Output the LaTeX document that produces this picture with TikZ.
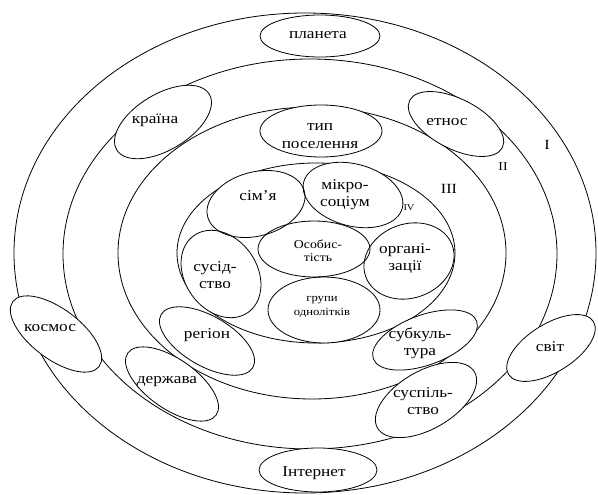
\documentclass[tikz,border=0pt]{standalone}
\usepackage{fontspec}
\setmainfont[FakeStretch=1.15]{Liberation Serif}
\usetikzlibrary{shapes.geometric}
\begin{document}
\begin{tikzpicture}[x=1pt,y=-1pt,line width=0.8pt,
  ring/.style={draw,ellipse,inner sep=0pt},
  txt/.style={font=\fontsize{15}{17}\selectfont,inner sep=0pt,align=center},
  smalltxt/.style={font=\fontsize{12}{13}\selectfont,inner sep=0pt,align=center},
  tinytxt/.style={font=\fontsize{11}{14}\selectfont,inner sep=0pt,align=center},
  numtxt/.style={font=\fontsize{14}{14}\selectfont,inner sep=0pt}]
\useasboundingbox[fill=white] (0,0) rectangle (598,495);
% rings
\node[ring,minimum width=582pt,minimum height=480pt] (ringI) at (305,253) {};
\node[ring,minimum width=494pt,minimum height=390pt] (ringII) at (310,254) {};
\node[ring,minimum width=388pt,minimum height=292pt] (ringIII) at (312,253) {};
\node[ring,minimum width=278pt,minimum height=180pt] (ringIV) at (316,253) {};
% ellipse fills
\foreach \n/\x/\y/\w/\h/\r in {
  planeta/320/36/120/42/0, typ/321/131/122/52/0, kraina/163/122/108/56/31,
  etnos/456/124/104/50/-27, simja/256/204/100/64/15, mikro/353/195/102/62/-15,
  osob/314/249/112/56/0, org/409/261/92/74/20, susid/221/274/94/72/-55,
  grupy/324/310/112/66/0, region/207/341/106/50/-30, derzh/172/384/108/50/-35,
  kosmos/56/334/108/50/-37, subk/425/340/110/50/20, susp/426/400/112/58/30,
  svit/551/348/100/48/32, internet/318/470/118/44/0}
  \node[ellipse,fill=white,inner sep=0pt,minimum width=\w pt,minimum height=\h pt,rotate=\r] (\n f) at (\x,\y) {};
% ellipse outlines
\foreach \n/\x/\y/\w/\h/\r in {
  planeta/320/36/120/42/0, typ/321/131/122/52/0, kraina/163/122/108/56/31,
  etnos/456/124/104/50/-27, simja/256/204/100/64/15, mikro/353/195/102/62/-15,
  osob/314/249/112/56/0, org/409/261/92/74/20, susid/221/274/94/72/-55,
  grupy/324/310/112/66/0, region/207/341/106/50/-30, derzh/172/384/108/50/-35,
  kosmos/56/334/108/50/-37, subk/425/340/110/50/20, susp/426/400/112/58/30,
  svit/551/348/100/48/32, internet/318/470/118/44/0}
  \node[ellipse,draw,inner sep=0pt,minimum width=\w pt,minimum height=\h pt,rotate=\r] (\n) at (\x,\y) {};
% texts
\node[txt] (tplaneta) at (318,35) {планета};
\node[txt,font=\fontsize{15}{18}\selectfont] (ttyp) at (320,136) {тип\\поселення};
\node[txt] (tkraina) at (155,120) {країна};
\node[txt] (tetnos) at (447,122) {етнос};
\node[txt] (tsimja) at (258,196) {сім'я};
\node[txt] (tmikro) at (345,195) {мікро-\\соціум};
\node[smalltxt] (tosob) at (318,251) {Особис-\\тість};
\node[txt] (torg) at (405,258) {органі-\\зації};
\node[txt] (tsusid) at (215,275) {сусід-\\ство};
\node[tinytxt] (tgrupy) at (322,307) {групи\\однолітків};
\node[txt] (tregion) at (207,335) {регіон};
\node[txt] (tderzh) at (167,382) {держава};
\node[txt] (tkosmos) at (50,328) {космос};
\node[txt] (tsubk) at (420,343) {субкуль-\\тура};
\node[txt] (tsusp) at (423,401) {суспіль-\\ство};
\node[txt] (tsvit) at (550,347) {світ};
\node[txt] (tinternet) at (314,473) {Інтернет};
% ring numbers
\node[numtxt] (nI) at (547,145) {I};
\node[numtxt,font=\fontsize{12}{12}\selectfont] (nII) at (503,167) {II};
\node[numtxt] (nIII) at (449,189) {III};
\node[numtxt,font=\fontsize{9}{9}\selectfont] (nIV) at (409,208) {IV};
\end{tikzpicture}
\end{document}
